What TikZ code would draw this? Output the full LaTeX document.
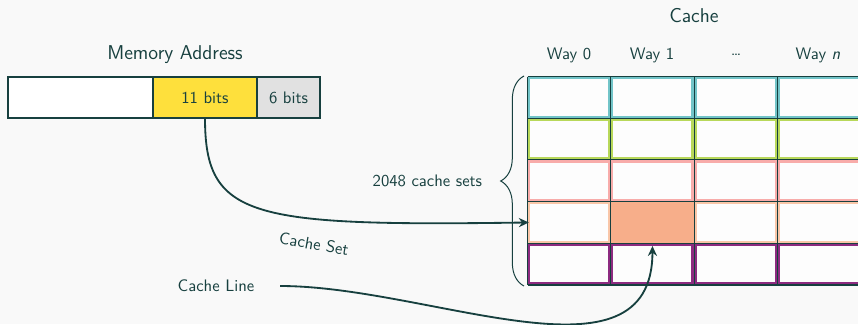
\documentclass[tikz,border=0pt]{standalone}
\usetikzlibrary{decorations.pathreplacing,arrows.meta}
\renewcommand\familydefault{\sfdefault}
\definecolor{bgcol}{HTML}{F9F9F9}
\definecolor{cellbg}{HTML}{FDFDFD}
\definecolor{ink}{HTML}{17403F}
\definecolor{bitsyellow}{HTML}{FEE03C}
\definecolor{bitsgray}{HTML}{E1E1E1}
\definecolor{rowA}{HTML}{72C4C8}
\definecolor{rowB}{HTML}{B8D85A}
\definecolor{rowC}{HTML}{F8ACAA}
\definecolor{rowD}{HTML}{F9C6A8}
\definecolor{rowE}{HTML}{8D2B80}
\definecolor{hilite}{HTML}{F7AE8A}
\begin{document}
\begin{tikzpicture}[x=0.6pt,y=-0.6pt,
  every node/.style={text=ink},
  addrbox/.style={draw=ink, line width=0.7pt, minimum height=24.6pt, inner sep=0pt, outer sep=0pt, anchor=west},
  cellbox/.style={rectangle, fill=cellbg, line width=1.6pt, minimum width=48.38pt, minimum height=23.42pt, inner sep=0pt, outer sep=0pt},
  gridline/.style={draw=ink, line width=0.7pt},
  conn/.style={draw=ink, line width=1.1pt, -{Stealth[length=6pt,width=5.5pt]}},
  titletext/.style={font=\large}]
\fill[bgcol] (0,0) rectangle (858,324);
\useasboundingbox (0,0) rectangle (858,324);
\clip (0,0) rectangle (858,324);

% memory address
\node[titletext] (mt) at (175,55) {Memory Address};
\node[addrbox, fill=white, minimum width=87pt] (a0) at (8,97.5) {};
\node[addrbox, fill=bitsyellow, minimum width=62.4pt] (b11) at (a0.east) {11 bits};
\node[addrbox, fill=bitsgray, minimum width=37.8pt] (b6) at (b11.east) {6 bits};

% cache
\node[titletext] (ct) at (694,16) {Cache};
\node (w0) at (569,55) {Way 0};
\node (w1) at (652,55) {Way 1};
\node (wd) at (736,55) {\dots};
\node (wn) at (818,55) {Way \textit{n}};

\foreach \r/\col in {1/rowA,2/rowB,3/rowC,4/rowD,5/rowE} {
  \foreach \c in {1,...,4} {
    \node[cellbox, draw=\col] (c\r\c) at ({527.5+83.3*(\c-0.5)}, {76.5+41.7*(\r-0.5)}) {};
  }
}
\fill[hilite] (611,201.5) rectangle (694.1,243.2);
\foreach \c in {0,...,4} {
  \draw[gridline] ({527.5+83.3*\c},76.5) -- ({527.5+83.3*\c},285);
}
\foreach \r in {0,...,5} {
  \draw[gridline] (527.5,{76.5+41.7*\r}) -- (870,{76.5+41.7*\r});
}

% brace
\draw[ink, line width=0.6pt, decorate, decoration={brace, amplitude=14pt, aspect=0.5}] (524,286) -- (524,76);
\node[anchor=east] (sets) at (488,181) {2048 cache sets};

% connectors
\draw[conn] (b11.south) .. controls +(0,100) and +(-280,4) .. (c41.west);
\node[rotate=-10] (cs) at (314,244) {Cache Set};
\node (cl) at (216,286) {Cache Line};
\draw[conn, shorten <=12pt, shorten >=2.4pt] (cl.east) .. controls +(170,0) and +(0,150) .. (c42.south);
\end{tikzpicture}
\end{document}
